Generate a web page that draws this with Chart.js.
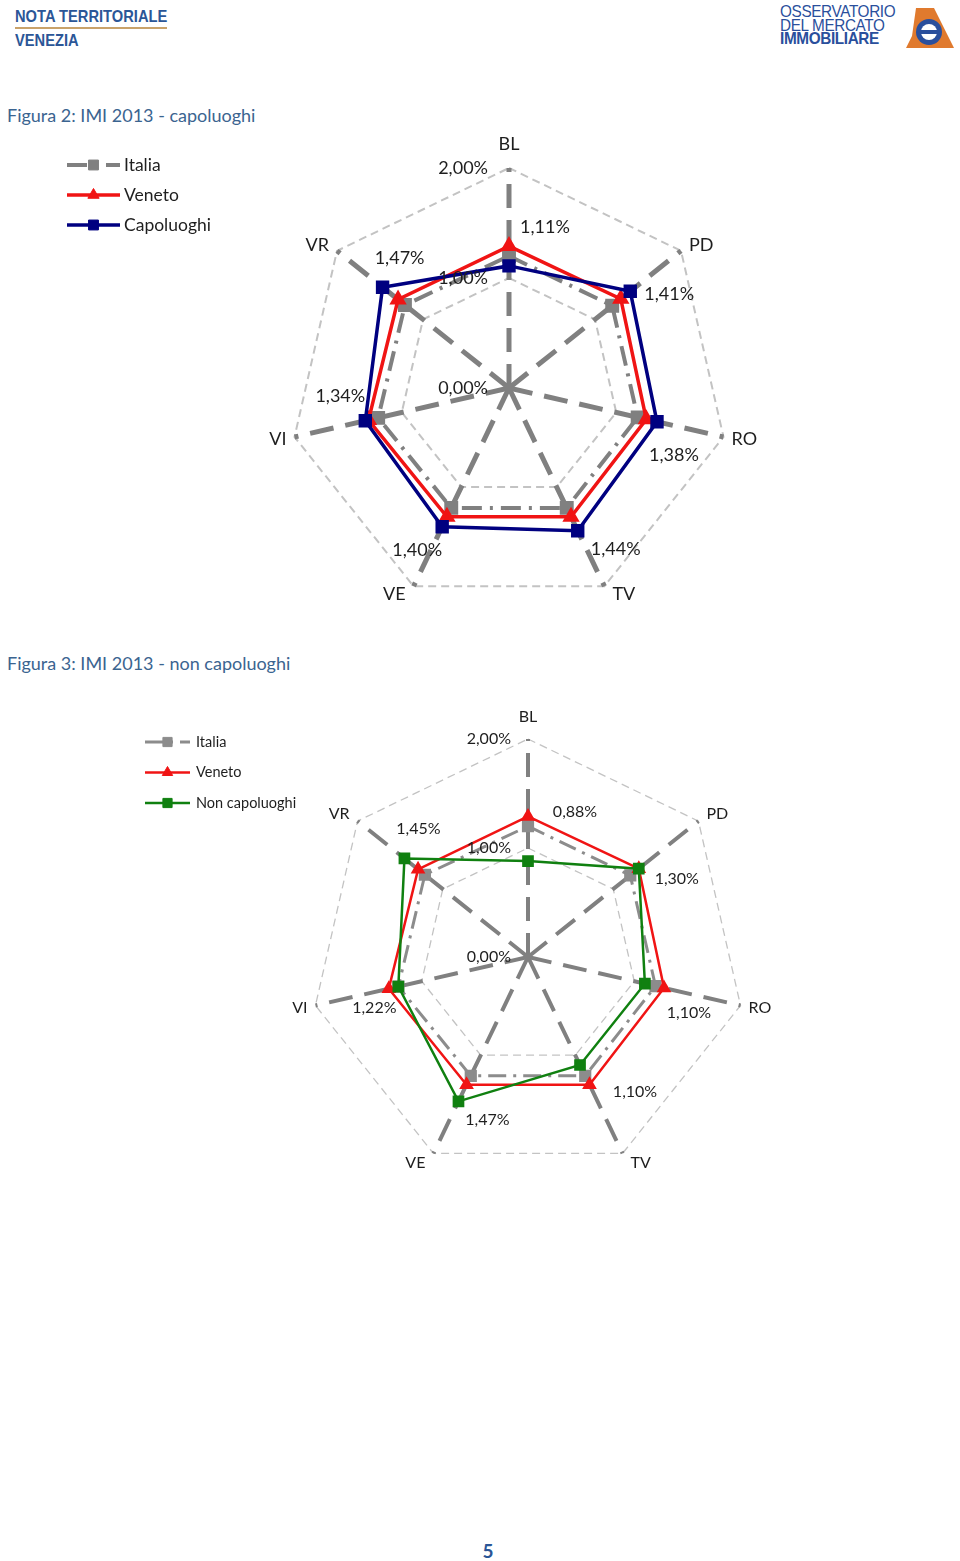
<!DOCTYPE html>
<html lang="it">

<head>
	<meta charset="UTF-8">
	<title>IMI 2013 - Venezia</title>
	<script src="https://cdn.jsdelivr.net/npm/chart.js"></script>
	<style>
	body { margin: 0; width: 960px; height: 1561px; position: relative; background: #fff; font-family: Lato, sans-serif; overflow: hidden; }
	.abs { position: absolute; }
	.hdr { font: bold 16.5px 'Liberation Sans', sans-serif; color: #2b5697; transform: scaleX(0.89); transform-origin: left top; }
	.logo { left: 780px; top: 5px; font: 17px/13.5px 'Liberation Sans', sans-serif; color: #2a4f9c; letter-spacing: -0.4px; transform: scaleX(0.9); transform-origin: left top; }
	.fig { left: 7px; font-size: 18px; color: #3b6490; }
	</style>
</head>

<body>
	<!-- intestazione -->
	<div class="abs hdr" style="left:15px;top:7px">NOTA TERRITORIALE</div>
	<div class="abs" style="left:15px;top:27px;width:152px;height:2px;background:#c9a26a"></div>
	<div class="abs hdr" style="left:15px;top:31px">VENEZIA</div>
	<div class="abs logo">OSSERVATORIO<br>DEL MERCATO<br><b>IMMOBILIARE</b></div>
	<svg class="abs" style="left:904px;top:6px" width="52" height="44" viewBox="0 0 52 44">
		<polygon points="12,2 30,2 50,42 2,42 8,30" fill="#e07a2e"/>
		<circle cx="25" cy="26" r="13" fill="#2a4f9c"/>
		<circle cx="25" cy="26" r="8" fill="#fff"/>
		<rect x="15" y="24" width="20" height="4" fill="#2a4f9c"/>
	</svg>

	<div class="abs fig" style="top:104px">Figura 2: IMI 2013 - capoluoghi</div>
	<canvas id="chartCap" class="abs" style="left:0;top:130px" width="960" height="480"></canvas>

	<div class="abs fig" style="top:652px">Figura 3: IMI 2013 - non capoluoghi</div>
	<canvas id="chartNonCap" class="abs" style="left:0;top:680px" width="960" height="520"></canvas>

	<div class="abs" style="left:0;width:960px;top:1539px;text-align:center;font:bold 19px Lato;color:#2b5697;padding-left:8px">5</div>

	<script>
	// dati IMI 2013 per provincia
	const categories = ['BL', 'PD', 'RO', 'TV', 'VE', 'VI', 'VR'];
	const italia = [1.20, 1.20, 1.20, 1.21, 1.21, 1.22, 1.21];
	const veneto = [1.29, 1.30, 1.28, 1.30, 1.30, 1.31, 1.29];
	const capoluoghi = [1.11, 1.41, 1.38, 1.44, 1.40, 1.34, 1.47];
	const nonCapoluoghi = [0.88, 1.30, 1.10, 1.10, 1.47, 1.22, 1.45];
	const axisTicks = [0, 1, 2];

	// spostamento delle etichette dati rispetto al punto (px)
	const capLabelOffsets = [[36, -39], [39, 3], [17, 33], [38, 18], [-25, 23], [-25, -25], [17, -29]];
	const nonCapLabelOffsets = [[47, -49], [38, 10], [44, 29], [55, 27], [29, 18], [-24, 21], [14, -30]];

	const GREY = '#808080';
	const TEXT = '#1e1e1e';

	function fmtPct(v) {
		return v.toFixed(2).replace('.', ',') + '%';
	}

	// etichette assi, valori, etichette dati e legenda
	const overlay = {
		id: 'overlay',
		afterDraw(chart, args, o) {
			const ctx = chart.ctx;
			const sc = chart.scales.r;
			const R = sc.drawingArea;
			ctx.save();
			ctx.fillStyle = TEXT;
			ctx.textBaseline = 'middle';
			// categorie
			ctx.font = o.catSize + 'px Lato';
			ctx.textAlign = 'center';
			chart.data.labels.forEach((lab, i) => {
				const p = sc.getPointPosition(i, R);
				const c = Math.cos(p.angle), s = Math.sin(p.angle);
				const w = ctx.measureText(lab).width;
				const dx = Math.abs(c) < 0.1 ? 0 : Math.sign(c) * (w / 2 + 8);
				const dy = Math.abs(c) < 0.1 ? s * (o.catSize / 2 + o.catTop) : s * o.catSide;
				ctx.fillText(lab, p.x + dx, p.y + dy);
			});
			// valori asse
			ctx.font = o.valSize + 'px Lato';
			ctx.textAlign = 'right';
			axisTicks.forEach(v => {
				const p = sc.getPointPositionForValue(0, v);
				ctx.fillText(fmtPct(v), sc.xCenter - o.tickGap, p.y);
			});
			// etichette dati
			ctx.textAlign = 'center';
			const meta = chart.getDatasetMeta(o.labelSet);
			const vals = chart.data.datasets[o.labelSet].data;
			meta.data.forEach((pt, i) => {
				ctx.fillText(fmtPct(vals[i]), pt.x + o.offsets[i][0], pt.y + o.offsets[i][1]);
			});
			// legenda
			ctx.font = o.legSize + 'px Lato';
			ctx.textAlign = 'left';
			chart.data.datasets.forEach((ds, i) => {
				const y = o.legY + i * o.legStep;
				ctx.save();
				ctx.strokeStyle = ds.borderColor;
				ctx.lineWidth = ds.borderWidth;
				ctx.setLineDash(ds.borderDash || []);
				ctx.beginPath();
				ctx.moveTo(o.legX, y);
				ctx.lineTo(o.legX + o.legLen, y);
				ctx.stroke();
				ctx.setLineDash([]);
				ctx.fillStyle = ds.borderColor;
				ctx.strokeStyle = ds.borderColor;
				ctx.lineWidth = 1;
				Chart.helpers.drawPoint(ctx, { pointStyle: ds.pointStyle, radius: ds.pointRadius, rotation: 0, borderWidth: 1 }, o.legX + o.legLen / 2, y);
				ctx.restore();
				ctx.fillText(ds.label, o.legX + o.legLen + o.legGap, y);
			});
			ctx.restore();
		}
	};

	function series(label, data, color, width, radius, style, dash, order) {
		return {
			label: label,
			data: data,
			borderColor: color,
			backgroundColor: color,
			borderWidth: width,
			borderDash: dash,
			pointStyle: style,
			pointRadius: radius,
			pointHoverRadius: radius,
			pointBackgroundColor: color,
			pointBorderColor: color,
			fill: false,
			tension: 0,
			order: order
		};
	}

	function radarScale(gridWidth, axisWidth) {
		return {
			r: {
				min: 0,
				max: 2,
				ticks: { stepSize: 1, display: false },
				pointLabels: { display: false },
				grid: { color: '#c3c3c3', lineWidth: gridWidth },
				border: { dash: [8, 5] },
				angleLines: { color: GREY, lineWidth: axisWidth, borderDash: [24, 12] }
			}
		};
	}

	new Chart(document.getElementById('chartCap'), {
		type: 'radar',
		data: {
			labels: categories,
			datasets: [
				series('Italia', italia, GREY, 4, 7, 'rect', [20, 8, 3, 8], 3),
				series('Veneto', veneto, '#f01414', 3.5, 6.5, 'triangle', [], 2),
				series('Capoluoghi', capoluoghi, '#000080', 3.5, 7, 'rect', [], 1)
			]
		},
		options: {
			responsive: false,
			animation: false,
			layout: { padding: { left: 289, right: 231, top: 38, bottom: 2 } },
			plugins: {
				legend: { display: false },
				tooltip: { enabled: false },
				overlay: {
					catSize: 18, catTop: 15, catSide: 9, valSize: 18, tickGap: 21,
					labelSet: 2, offsets: capLabelOffsets,
					legX: 67, legY: 35, legStep: 30, legLen: 53, legGap: 4, legSize: 17.5
				}
			},
			scales: radarScale(2, 5)
		},
		plugins: [overlay]
	});

	new Chart(document.getElementById('chartNonCap'), {
		type: 'radar',
		data: {
			labels: categories,
			datasets: [
				series('Italia', italia, '#8c8c8c', 3, 6.5, 'rect', [18, 7, 3, 7], 3),
				series('Veneto', veneto, '#f01414', 2.5, 6, 'triangle', [], 2),
				series('Non capoluoghi', nonCapoluoghi, '#108010', 2.5, 6.5, 'rect', [], 1)
			]
		},
		options: {
			responsive: false,
			animation: false,
			layout: { padding: { left: 310, right: 214, top: 59, bottom: 25 } },
			plugins: {
				legend: { display: false },
				tooltip: { enabled: false },
				overlay: {
					catSize: 16, catTop: 14, catSide: 11, valSize: 16, tickGap: 17,
					labelSet: 2, offsets: nonCapLabelOffsets,
					legX: 145, legY: 62, legStep: 30.5, legLen: 45, legGap: 6, legSize: 14.5
				}
			},
			scales: radarScale(1.3, 4)
		},
		plugins: [overlay]
	});
	</script>
</body>

</html>
